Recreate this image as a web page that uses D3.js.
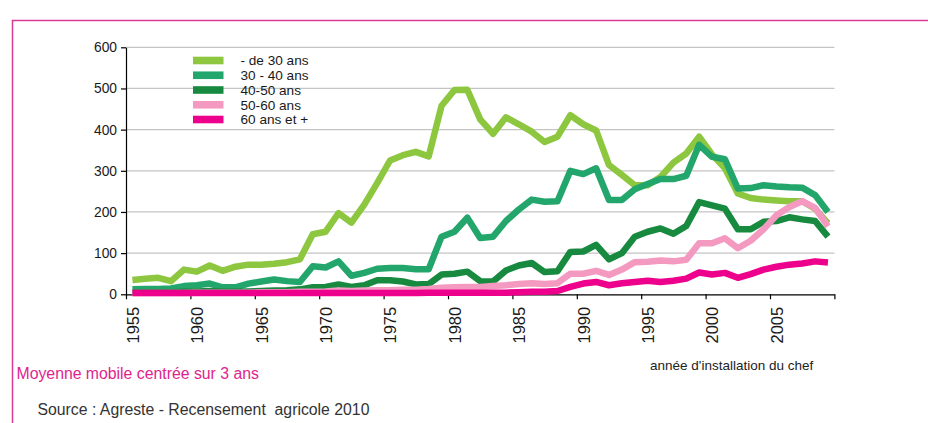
<!DOCTYPE html>
<html lang="fr">
<head>
<meta charset="utf-8">
<title>Installations selon l'âge du chef</title>
<script src="https://cdn.jsdelivr.net/npm/d3@7/dist/d3.min.js"></script>
<style>
    body { margin: 0; background: #fff; }
    svg { display: block; font-family: "Liberation Sans", Arial, sans-serif; }
</style>
</head>
<body>
<svg id="chart" width="928" height="423"></svg>
<script>
// one value per year, 1955 -> 2009 (moyenne mobile sur 3 ans)
const years = d3.range(1955, 2010);

const moins30 = [35, 38, 40, 32, 60, 55, 70, 57, 67, 72, 72, 74, 78, 85, 146, 152, 197, 174, 218, 270,
    325, 338, 346, 335, 458, 496, 497, 425, 390, 430, 413, 395, 370, 383, 435, 413, 398, 314, 290, 265,
    265, 285, 320, 342, 383, 340, 306, 245, 234, 230, 228, 226, 226, 208, 172];
const de30a40 = [12, 13, 13, 14, 20, 22, 26, 17, 17, 26, 31, 36, 32, 30, 68, 65, 80, 45, 52, 62,
    64, 64, 61, 61, 140, 152, 186, 137, 140, 178, 206, 230, 225, 226, 300, 292, 306, 229, 229, 255,
    268, 280, 280, 288, 363, 334, 328, 257, 258, 265, 262, 260, 259, 241, 200];
const de40a50 = [5, 5, 5, 5, 6, 7, 8, 6, 6, 7, 8, 9, 10, 12, 17, 18, 24, 18, 22, 34,
    34, 31, 24, 25, 48, 50, 55, 32, 31, 58, 70, 76, 54, 56, 103, 104, 120, 85, 100, 140,
    152, 160, 147, 166, 224, 216, 208, 158, 158, 176, 178, 187, 182, 178, 140];
const de50a60 = [3, 3, 3, 3, 3, 4, 4, 4, 4, 4, 5, 5, 5, 6, 6, 7, 9, 8, 9, 10,
    10, 11, 11, 13, 16, 17, 18, 18, 20, 22, 25, 27, 25, 27, 50, 50, 57, 47, 60, 78,
    79, 82, 80, 84, 124, 124, 136, 112, 130, 158, 192, 212, 226, 210, 165];
const plus60 = [3, 3, 3, 3, 3, 3, 3, 3, 3, 3, 3, 3, 3, 3, 3, 3, 3, 3, 3, 3,
    3, 3, 3, 4, 4, 4, 4, 4, 4, 4, 5, 6, 6, 8, 18, 26, 30, 22, 27, 30,
    33, 30, 33, 38, 53, 48, 52, 40, 49, 60, 67, 72, 75, 80, 77];

const seriesNames = ["- de 30 ans", "30 - 40 ans", "40-50 ans", "50-60 ans", "60 ans et +"];
const seriesColors = ["#8dc63f", "#23a66b", "#178a40", "#f49ac1", "#ec008c"];
const seriesValues = [moins30, de30a40, de40a50, de50a60, plus60];

const yTicks = [0, 100, 200, 300, 400, 500, 600];
const xTicks = [1955, 1960, 1965, 1970, 1975, 1980, 1985, 1990, 1995, 2000, 2005, 2010];

function drawChart() {
    const svg = d3.select("#chart");
    svg.selectAll("*").remove();

    const plot = { left: 126, right: 834.4, top: 47.3, bottom: 294.3 };

    // frame (pink rule top and left)
    svg.append("path")
        .attr("d", "M12.5,423 V20.5 H928")
        .attr("fill", "none")
        .attr("stroke", "#d83a94")
        .attr("stroke-width", 1.5);

    // years are categories: ticks sit on the boundaries, points in the middle
    const x = d3.scaleLinear()
        .domain([1955, 2010])
        .range([plot.left, plot.right]);
    const half = (x(1956) - x(1955)) / 2;

    const y = d3.scaleLinear()
        .domain([0, 600])
        .range([plot.bottom, plot.top]);

    // gridlines
    svg.append("g")
        .selectAll("line")
        .data(yTicks.filter(d => d > 0))
        .enter()
        .append("line")
        .attr("x1", plot.left)
        .attr("x2", plot.right)
        .attr("y1", d => y(d))
        .attr("y2", d => y(d))
        .attr("stroke", "#c4c4c4")
        .attr("stroke-width", 1.3);

    // Y-axis
    const yAxis = svg.append("g")
        .attr("transform", `translate(${plot.left},0)`)
        .call(d3.axisLeft(y).tickValues(yTicks).tickSize(5).tickPadding(4).tickSizeOuter(0));
    yAxis.selectAll("text")
        .style("font-size", "13.8px")
        .attr("fill", "#1a1a1a");

    // X-axis
    const xAxis = svg.append("g")
        .attr("transform", `translate(0,${plot.bottom})`)
        .call(d3.axisBottom(x).tickValues(xTicks).tickSize(5).tickSizeOuter(0)
            .tickFormat(d => d < 2010 ? d : ""));
    xAxis.selectAll("text")
        .style("font-size", "16.5px")
        .attr("fill", "#1a1a1a")
        .attr("text-anchor", "end")
        .attr("x", 0)
        .attr("y", 0)
        .attr("dy", "0.36em")
        .attr("transform", `translate(${half},12.5) rotate(-90)`);

    svg.selectAll(".domain, .tick line")
        .attr("stroke", "#000")
        .attr("stroke-width", 1.2);

    // Lines
    const line = d3.line()
        .x((d, i) => x(years[i] + 0.5))
        .y(d => y(d));

    svg.append("g")
        .selectAll("path")
        .data(seriesValues)
        .enter()
        .append("path")
        .attr("d", d => line(d))
        .attr("fill", "none")
        .attr("stroke", (d, i) => seriesColors[i])
        .attr("stroke-width", 6.5)
        .attr("stroke-linejoin", "round");

    // Legend
    const legend = svg.append("g")
        .selectAll("g")
        .data(seriesNames)
        .enter()
        .append("g")
        .attr("transform", (d, i) => `translate(193,${60.5 + i * 14.75})`);

    legend.append("rect")
        .attr("x", 0)
        .attr("y", -3.8)
        .attr("width", 30.5)
        .attr("height", 7.6)
        .attr("fill", (d, i) => seriesColors[i]);

    legend.append("text")
        .attr("x", 47.5)
        .attr("y", 0)
        .attr("dy", "0.35em")
        .style("font-size", "13.6px")
        .attr("fill", "#1a1a1a")
        .text(d => d);

    // notes
    svg.append("text")
        .attr("x", 650)
        .attr("y", 370)
        .style("font-size", "13.5px")
        .attr("fill", "#222")
        .text("année d'installation du chef");

    svg.append("text")
        .attr("x", 16.5)
        .attr("y", 379)
        .style("font-size", "15.8px")
        .attr("fill", "#e0248c")
        .text("Moyenne mobile centrée sur 3 ans");

    svg.append("text")
        .attr("x", 37.5)
        .attr("y", 415)
        .style("font-size", "15.8px")
        .style("white-space", "pre")
        .attr("fill", "#333")
        .text("Source : Agreste - Recensement  agricole 2010");
}

drawChart();
</script>
</body>
</html>
